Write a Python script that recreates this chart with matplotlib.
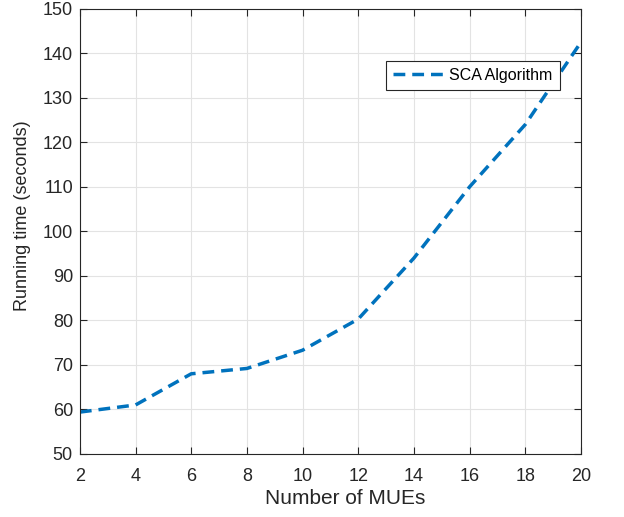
import numpy as np
import matplotlib
matplotlib.use("Agg")
import matplotlib.pyplot as plt

# data
num_mues = [2, 4, 6, 8, 10, 12, 14, 16, 18, 20]
run_time = [59.4, 61.0, 68.0, 69.2, 73.3, 80.3, 94.0, 110.0, 124.0, 142.5]
x_ticks = list(range(2, 21, 2))
y_ticks = list(range(50, 151, 10))

plt.rcParams['font.family'] = ['Liberation Sans', 'DejaVu Sans']

fig = plt.figure(figsize=(6.24, 5.17), dpi=100)
ax = fig.add_axes([0.128, 0.122, 0.803, 0.861])

ax.plot(num_mues, run_time, '--', color='#0072BD', linewidth=2.5,
        dashes=(3.4, 2.0), label='SCA Algorithm')

ax.set_xlim(2, 20)
ax.set_ylim(50, 150)
ax.set_xticks(x_ticks)
ax.set_yticks(y_ticks)
ax.tick_params(direction='in', top=True, right=True, labelsize=13,
               colors='#262626', length=5, width=0.8)
ax.tick_params(axis='x', pad=10)
ax.tick_params(axis='y', pad=5)
for sp in ax.spines.values():
    sp.set_color('#262626')
    sp.set_linewidth(0.8)
ax.grid(True, color='#e3e3e3', linewidth=0.8)
ax.set_axisbelow(True)

ax.set_xlabel('Number of MUEs', fontsize=15, color='#262626')
ax.set_ylabel('Running time (seconds)', fontsize=13, color='#262626')
# labels sit a little off-centre in the original
ax.xaxis.set_label_coords(0.529, -0.079)
ax.yaxis.set_label_coords(-0.097, 0.535)

leg = ax.legend(loc='upper left', bbox_to_anchor=(0.611, 0.883), fontsize=11.5,
                fancybox=False, framealpha=1, edgecolor='#262626',
                handlelength=3.2, borderpad=0.45, handletextpad=0.3,
                borderaxespad=0)
leg.get_frame().set_linewidth(0.8)

fig.savefig('out.png', dpi=100)
